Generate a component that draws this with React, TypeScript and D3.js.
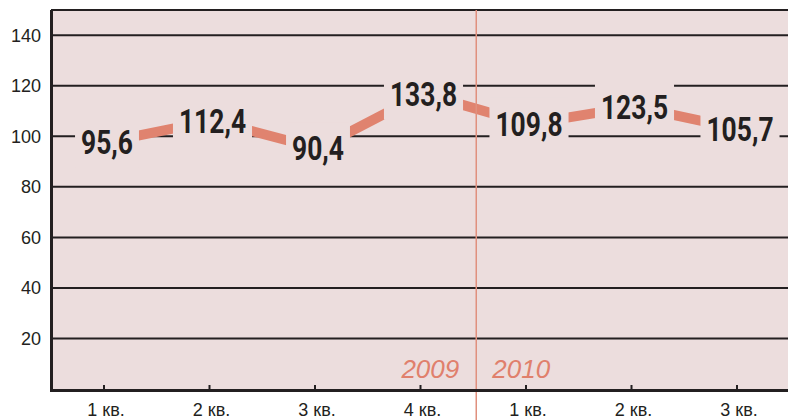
import React, { useEffect, useRef } from "react";
import * as d3 from "d3";

const quarters = ["1 кв.", "2 кв.", "3 кв.", "4 кв.", "1 кв.", "2 кв.", "3 кв."];
const years = ["2009", "2010"];
const values = [95.6, 112.4, 90.4, 133.8, 109.8, 123.5, 105.7];
const yTicks = [20, 40, 60, 80, 100, 120, 140];

const W = 788;
const H = 420;
const BG = "#ecdddd";
const INK = "#231f20";
const SALMON = "#e0836f";
const SQUEEZE = 0.8;

export default function App() {
  const ref = useRef<SVGSVGElement>(null);

  useEffect(() => {
    const svg = d3.select(ref.current);
    svg.selectAll("*").remove();

    const left = 51;
    const top = 10;
    const x = d3
      .scalePoint<number>()
      .domain(d3.range(values.length))
      .range([104, 737]);
    const y = d3.scaleLinear().domain([0, 150]).range([389, top]);
    // line drawn on a compressed scale around 100, as in the original
    const yLine = d3.scaleLinear().domain([50, 150]).range([y(75), y(125)]);

    svg
      .append("rect")
      .attr("x", left)
      .attr("y", top)
      .attr("width", W - left)
      .attr("height", y(0) - top)
      .attr("fill", BG);

    // gridlines
    svg
      .append("g")
      .selectAll("line")
      .data(yTicks)
      .join("line")
      .attr("x1", left)
      .attr("x2", W)
      .attr("y1", (d) => y(d))
      .attr("y2", (d) => y(d))
      .attr("stroke", INK)
      .attr("stroke-width", 2);

    // top border
    svg
      .append("line")
      .attr("x1", left)
      .attr("x2", W)
      .attr("y1", top)
      .attr("y2", top)
      .attr("stroke", INK)
      .attr("stroke-width", 2);

    // y labels
    svg
      .append("g")
      .selectAll("text")
      .data(yTicks)
      .join("text")
      .attr("x", 41)
      .attr("y", (d) => y(d) + 6.5)
      .attr("text-anchor", "end")
      .attr("font-family", "'Liberation Sans', Arial, sans-serif")
      .attr("font-size", 18)
      .attr("fill", INK)
      .text((d) => d);

    // data line
    const line = d3
      .line<number>()
      .x((_, i) => (x(i) as number) + 3)
      .y((d) => yLine(d));
    svg
      .append("path")
      .attr("d", line(values))
      .attr("fill", "none")
      .attr("stroke", SALMON)
      .attr("stroke-width", 10)
      .attr("stroke-linejoin", "miter");

    // divider
    const divX = ((x(3) as number) + (x(4) as number)) / 2 + 3;
    svg
      .append("line")
      .attr("x1", divX)
      .attr("x2", divX)
      .attr("y1", top)
      .attr("y2", H)
      .attr("stroke", "#e0907e")
      .attr("stroke-width", 1.5);

    // value labels with background boxes
    const lbl = svg.append("g");
    values.forEach((v, i) => {
      const cx = (x(i) as number) + 3;
      const base = yLine(v) + 12;
      const g = lbl.append("g");
      const box = g.append("rect").attr("fill", BG);
      const t = g
        .append("text")
        .attr("transform", `translate(${cx},${base}) scale(${SQUEEZE},1)`)
        .attr("text-anchor", "middle")
        .attr("font-family", "Roboto, 'DejaVu Sans Condensed', sans-serif")
        .attr("font-weight", "bold")
        .attr("font-size", 33)
        .attr("fill", INK)
        .text(v.toFixed(1).replace(".", ","));
      const w =
        (t.node() as SVGTextElement).getComputedTextLength() * SQUEEZE;
      box
        .attr("x", cx - w / 2 - 6)
        .attr("y", base - 38)
        .attr("width", w + 12)
        .attr("height", 52);
    });

    // axes
    svg
      .append("line")
      .attr("x1", left)
      .attr("x2", W)
      .attr("y1", y(0) + 1.5)
      .attr("y2", y(0) + 1.5)
      .attr("stroke", INK)
      .attr("stroke-width", 3);
    svg
      .append("line")
      .attr("x1", left + 0.5)
      .attr("x2", left + 0.5)
      .attr("y1", top)
      .attr("y2", y(0) + 3)
      .attr("stroke", INK)
      .attr("stroke-width", 3);

    // x ticks & labels
    svg
      .append("g")
      .selectAll("line")
      .data(quarters)
      .join("line")
      .attr("x1", (_, i) => x(i) as number)
      .attr("x2", (_, i) => x(i) as number)
      .attr("y1", y(0) - 4)
      .attr("y2", y(0) + 1)
      .attr("stroke", INK)
      .attr("stroke-width", 2);
    svg
      .append("g")
      .selectAll("text")
      .data(quarters)
      .join("text")
      .attr("x", (_, i) => (x(i) as number) + 2)
      .attr("y", 416)
      .attr("text-anchor", "middle")
      .attr("font-family", "'Liberation Sans', Arial, sans-serif")
      .attr("font-size", 18)
      .attr("fill", INK)
      .text((d) => d);

    // year labels
    const yearFont = "'Liberation Sans', Arial, sans-serif";
    svg
      .append("text")
      .attr("x", divX - 17)
      .attr("y", 378)
      .attr("text-anchor", "end")
      .attr("font-family", yearFont)
      .attr("font-style", "italic")
      .attr("font-size", 26)
      .attr("fill", "#e0806c")
      .text(years[0]);
    svg
      .append("text")
      .attr("x", divX + 16)
      .attr("y", 378)
      .attr("text-anchor", "start")
      .attr("font-family", yearFont)
      .attr("font-style", "italic")
      .attr("font-size", 26)
      .attr("fill", "#e0806c")
      .text(years[1]);
  }, []);

  return (
    <svg
      ref={ref}
      width={W}
      height={H}
      style={{ position: "absolute", left: 0, top: 0, background: "#fff" }}
    />
  );
}
